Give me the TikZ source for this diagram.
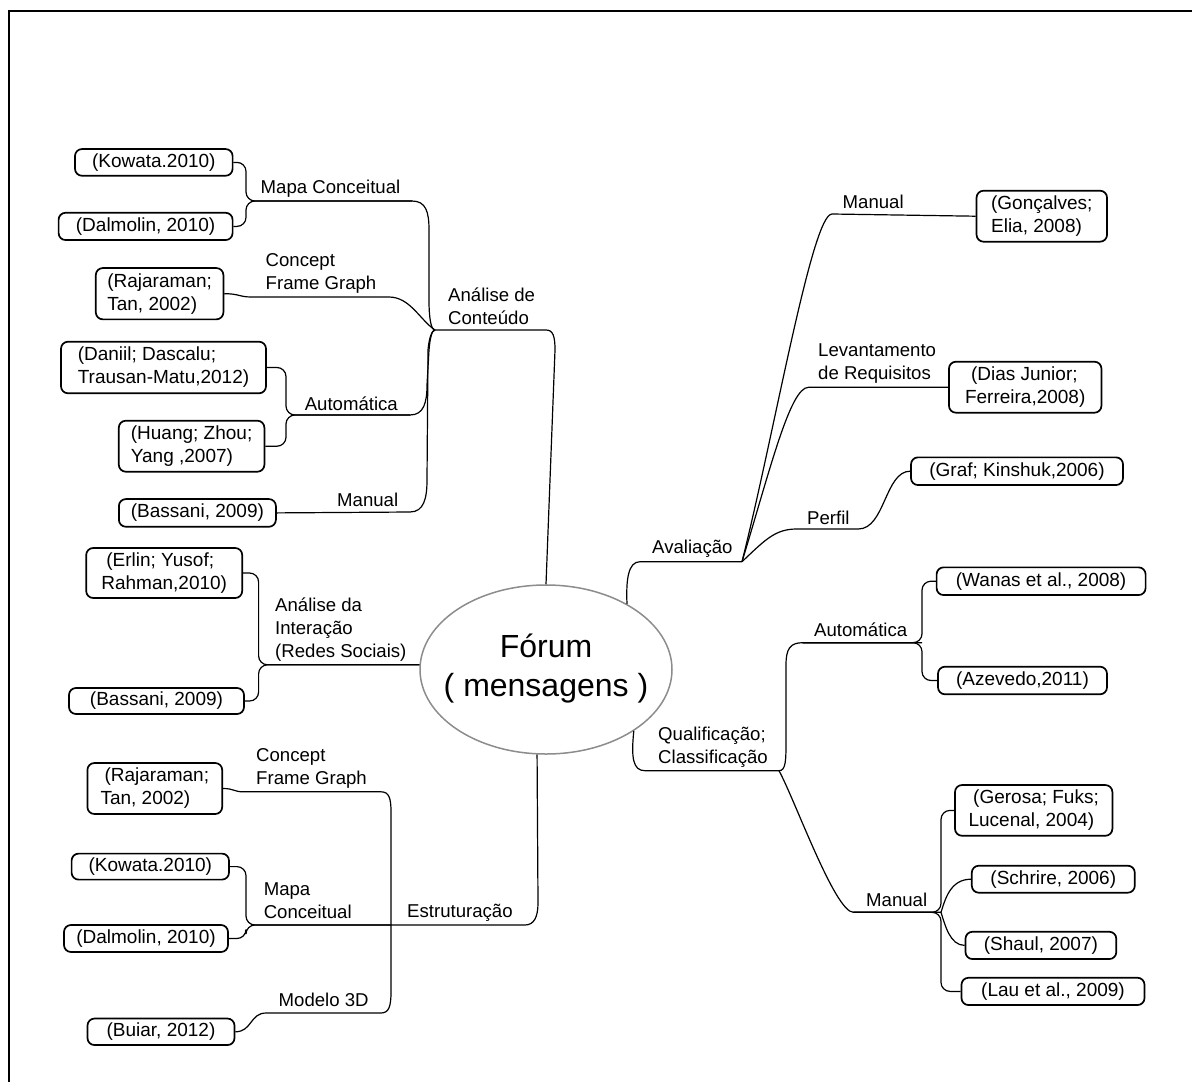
\documentclass[tikz,border=0pt]{standalone}
\usepackage{fontspec}
\setmainfont{Liberation Sans}
\usetikzlibrary{shapes.geometric}
\definecolor{hubgray}{RGB}{140,140,140}
\newcommand\reffont{\fontsize{19}{23}\selectfont}
\newcommand\tagfont{\fontsize{18.6}{23}\selectfont}
\newcommand\hubfont{\fontsize{32}{39}\selectfont}
\begin{document}
\begin{tikzpicture}[x=1pt,y=-1pt,
  refbox/.style={draw, rounded corners=7pt, line width=1.7pt, inner sep=0pt, align=left, font=\reffont},
  lbl/.style={anchor=west, inner sep=0pt, align=left, font=\tagfont},
  link/.style={line width=1.2pt},
  bracket/.style={link, rounded corners=9pt}]
\useasboundingbox (0,0) rectangle (1192,1082);
% frame
\draw[line width=2pt] (9,1082) -- (9,10.5) -- (1192,10.5);

% central topic (text kept out of the shape's size computation)
\node[ellipse, draw=hubgray, line width=1.5pt, minimum width=252pt, minimum height=169pt,
      inner sep=0pt, font=\hubfont] (forum) at (546,669.5)
      {\makebox[0pt]{\begin{tabular}{@{}c@{}}Fórum\\( mensagens )\end{tabular}}};

% ---------- Analise de Conteudo ----------
\node[refbox, minimum width=157.6pt, minimum height=26.7pt] (kowataA) at (153.8,162.4) {(Kowata.2010)};
\node[refbox, minimum width=174pt, minimum height=27.3pt] (dalmolinA) at (145.6,226.4) {(Dalmolin, 2010)};
\node[refbox, minimum width=127.6pt, minimum height=51.3pt] (rajaA) at (159.6,293.7) {(Rajaraman;\\Tan, 2002)};
\node[refbox, minimum width=205pt, minimum height=51.6pt] (daniil) at (163.5,367.5) {(Daniil; Dascalu;\\Trausan-Matu,2012)};
\node[refbox, minimum width=145.6pt, minimum height=51pt] (huang) at (191.6,446.2) {(Huang; Zhou;\\Yang ,2007)};
\node[refbox, minimum width=157pt, minimum height=27.7pt] (bassaniA) at (197.4,512.9) {(Bassani, 2009)};

\node[lbl] (mcA) at (260.5,189) {Mapa Conceitual};
\node[lbl] (cfgA) at (265.5,273.4) {Concept\\Frame Graph};
\node[lbl] (acA) at (448,306.5) {Análise de\\Conteúdo};
\node[lbl] (autA) at (304.6,403.3) {Automática};
\node[lbl] (manA) at (337,500) {Manual};

\coordinate (hubA) at (435,330);
\coordinate (jmcA) at (246,201);
\coordinate (mcAend) at (412,201);
\draw[bracket] (kowataA.east) -| (jmcA) -- (mcAend);
\draw[bracket] (dalmolinA.east) -| (jmcA) -- (mcAend);
\draw[link] (mcAend) .. controls (426,201) and (429,212) .. (429,230) -- (429,300)
  .. controls (429,318) and (431,330) .. (hubA);

\coordinate (cfgAa) at (252,297);
\coordinate (cfgAb) at (389,297);
\draw[link] (rajaA.east) .. controls (240,293.7) and (238,297) .. (cfgAa) -- (cfgAb)
  .. controls (410,297) and (420,320) .. (hubA);

\coordinate (jautA) at (286,415);
\coordinate (autAend) at (410,415);
\draw[bracket] (daniil.east) -| (jautA) -- (autAend);
\draw[bracket] (huang.east) -| (jautA) -- (autAend);
\draw[link] (autAend) .. controls (424,415) and (427,402) .. (427,385) -- (429,350)
  .. controls (430,338) and (432,330) .. (hubA);

\coordinate (manAend) at (410,512);
\draw[link] (bassaniA.east) -- (manAend) .. controls (424,512) and (427,498) .. (427,480) -- (428,350)
  .. controls (429,338) and (432,330) .. (hubA);

\coordinate (acAend) at (546,330);
\draw[link] (hubA) -- (acAend) .. controls (553,330) and (555,336) .. (555,350) -- (forum.north);

% ---------- Analise da Interacao ----------
\node[refbox, minimum width=156pt, minimum height=50pt] (erlin) at (164.2,573) {\hspace{5pt}(Erlin; Yusof;\\Rahman,2010)};
\node[refbox, minimum width=175pt, minimum height=26pt] (bassaniB) at (156.5,701) {(Bassani, 2009)};
\node[lbl] (aiB) at (275,630) {Análise da\\Interação\\(Redes Sociais)};

\coordinate (jaiB) at (258.6,664.8);
\draw[bracket] (erlin.east) -| (jaiB) -- (forum.west |- jaiB);
\draw[bracket] (bassaniB.east) -| (jaiB) -- (forum.west |- jaiB);

% ---------- Estruturacao ----------
\node[refbox, minimum width=134.8pt, minimum height=51pt] (rajaC) at (154.8,788.5) {\hspace{4pt}(Rajaraman;\\Tan, 2002)};
\node[refbox, minimum width=157.4pt, minimum height=26pt] (kowataC) at (150.3,866.6) {(Kowata.2010)};
\node[refbox, minimum width=164pt, minimum height=27pt] (dalmolinC) at (146,938.5) {(Dalmolin, 2010)};
\node[refbox, minimum width=147pt, minimum height=26.5pt] (buiar) at (161,1031.8) {(Buiar, 2012)};

\node[lbl] (cfgC) at (256,768) {Concept\\Frame Graph};
\node[lbl] (mcC) at (263.6,900.3) {Mapa\\Conceitual};
\node[lbl] (estC) at (407,913) {Estruturação};
\node[lbl] (m3dC) at (278.5,1000) {Modelo 3D};

\coordinate (jestC) at (391,925);
\coordinate (estCend) at (525,925);
\draw[link] (jestC) -- (estCend) .. controls (534,925) and (538,917) .. (538,903) -- (forum.264);

\coordinate (cfgCa) at (243,791.8);
\coordinate (cfgCb) at (381,791.8);
\draw[link] (rajaC.east) .. controls (234,788.5) and (234,791.8) .. (cfgCa) -- (cfgCb)
  .. controls (389,791.8) and (391,798) .. (391,812) -- (jestC);

\coordinate (jmcC) at (246,925);
\draw[bracket] (kowataC.east) -| (jmcC) -- (jestC);
\draw[bracket] (dalmolinC.east) -| (jmcC) -- (jestC);

\coordinate (m3dCa) at (266,1013);
\coordinate (m3dCb) at (381,1013);
\draw[link] (buiar.east) .. controls (252,1031.8) and (250,1013) .. (m3dCa) -- (m3dCb)
  .. controls (389,1013) and (391,1006) .. (391,992) -- (jestC);

% ---------- Avaliacao ----------
\node[refbox, minimum width=130.5pt, minimum height=51pt] (goncalves) at (1041.8,216.2) {(Gonçalves;\\Elia, 2008)};
\node[refbox, minimum width=152.5pt, minimum height=51pt] (dias) at (1025.2,387.2) {\hspace{6pt}(Dias Junior;\\Ferreira,2008)};
\node[refbox, minimum width=212pt, minimum height=27.7pt] (graf) at (1017,471.2) {(Graf; Kinshuk,2006)};

\node[lbl] (manD) at (842.5,201.7) {Manual};
\node[lbl] (levD) at (818,363.4) {Levantamento\\de Requisitos};
\node[lbl] (perD) at (807,517.7) {Perfil};
\node[lbl] (avD) at (652,549) {Avaliação};

\coordinate (jav) at (742,561.7);
\coordinate (avDa) at (640,561.7);
\draw[link] (forum.39) .. controls (626,580) and (628,561.7) .. (avDa) -- (jav);

\coordinate (manDa) at (832,214);
\draw[link] (jav) .. controls (775,430) and (812,214) .. (manDa) -- (goncalves.west);

\coordinate (levDa) at (808.5,387.3);
\draw[link] (jav) .. controls (770,470) and (790,387.3) .. (levDa) -- (dias.west);

\coordinate (perDa) at (796.7,529);
\coordinate (perDb) at (858.3,529);
\draw[link] (jav) .. controls (765,540) and (775,529) .. (perDa) -- (perDb)
  .. controls (885,529) and (885,471.2) .. (graf.west);

% ---------- Qualificacao; Classificacao ----------
\node[refbox, minimum width=209pt, minimum height=27.7pt] (wanas) at (1041.1,581.2) {(Wanas et al., 2008)};
\node[refbox, minimum width=169pt, minimum height=27.6pt] (azevedo) at (1022.5,680.5) {(Azevedo,2011)};
\node[refbox, minimum width=157.4pt, minimum height=50.7pt] (gerosa) at (1033.7,810.4) {\hspace{4.6pt}(Gerosa; Fuks;\\Lucenal, 2004)};
\node[refbox, minimum width=163pt, minimum height=27pt] (schrire) at (1053.3,879.2) {(Schrire, 2006)};
\node[refbox, minimum width=150.8pt, minimum height=27.3pt] (shaul) at (1040.9,945.4) {(Shaul, 2007)};
\node[refbox, minimum width=183pt, minimum height=27.3pt] (lau) at (1053,991.4) {(Lau et al., 2009)};

\node[lbl] (qcE) at (658,747.5) {Qualificação;\\Classificação};
\node[lbl] (autE) at (814,630) {Automática};
\node[lbl] (manE) at (866,900) {Manual};

\coordinate (jqc) at (779,770.7);
\coordinate (qcEa) at (645,770.7);
\draw[link] (forum.325) .. controls (631,758) and (633,770.7) .. (qcEa) -- (jqc);

\coordinate (autEa) at (802.7,642.7);
\coordinate (jautE) at (922,642.7);
\draw[link] (jqc) .. controls (786,770.7) and (786,760) .. (786,740) -- (786,665)
  .. controls (786,649) and (790,642.7) .. (autEa) -- (jautE);
\draw[bracket] (wanas.west) -| (jautE) -- (autEa);
\draw[bracket] (azevedo.west) -| (jautE) -- (autEa);

\coordinate (manEa) at (853.4,912.3);
\coordinate (jmanE) at (941,912.3);
\draw[link] (jqc) .. controls (795,800) and (835,912.3) .. (manEa) -- (jmanE);
\draw[bracket] (gerosa.west) -| (jmanE) -- (manEa);
\draw[bracket] (lau.west) -| (jmanE) -- (manEa);
\draw[link] (jmanE) .. controls (945,900) and (950,879.2) .. (schrire.west);
\draw[link] (jmanE) .. controls (945,925) and (950,945.4) .. (shaul.west);
\end{tikzpicture}
\end{document}
